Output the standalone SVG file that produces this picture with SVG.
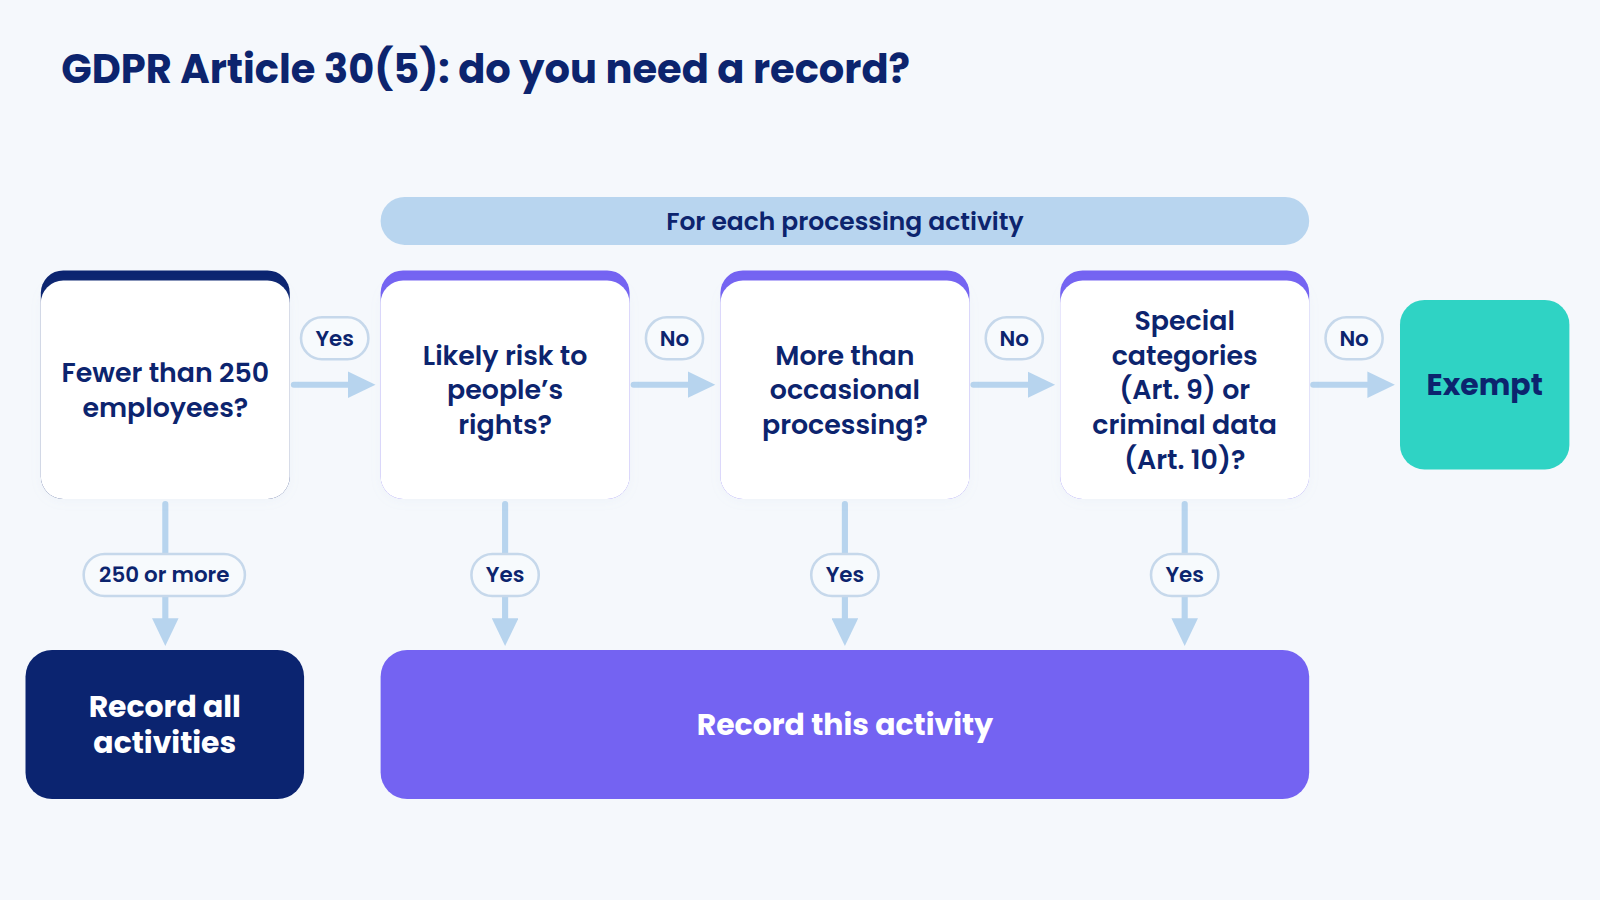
<svg xmlns="http://www.w3.org/2000/svg" width="1600" height="900" viewBox="0 0 1600 900">
<defs>
<style>
.t{font-family:Poppins,Inter,"Noto Sans",sans-serif;fill:#0c246e;text-anchor:middle;dominant-baseline:central}
.q{font-size:26.3px;font-weight:600}
.lbl{font-size:21px;font-weight:600}
.big{font-size:29.3px;font-weight:700}
.w{fill:#ffffff}
.pill{fill:#f7fafd;stroke:#c6d8eb;stroke-width:2.5}
.con{stroke:#b7d4ee;stroke-width:6;fill:none;stroke-linecap:round;marker-end:url(#ah)}
.card{fill:#ffffff}
</style>
<marker id="ah" markerUnits="userSpaceOnUse" markerWidth="28" markerHeight="26" refX="0" refY="13" orient="auto">
<path d="M0,0 L27,13 L0,26 z" fill="#b7d4ee"/>
</marker>
<filter id="sh" x="-10%" y="-10%" width="120%" height="120%">
<feDropShadow dx="0" dy="2" stdDeviation="5" flood-color="#9fb4d0" flood-opacity="0.07"/>
</filter>
</defs>
<rect width="1600" height="900" fill="#f5f8fc"/>
<g transform="scale(1.020408)">
<text id="title" x="60" y="68" class="t" style="text-anchor:start;font-size:39.2px;font-weight:700">GDPR Article 30(5): do you need a record?</text>

<g id="banner">
<rect x="373" y="193" width="910" height="47" rx="23.5" fill="#b8d5ef"/>
<text x="828" y="217" class="t" style="font-size:24.5px;font-weight:600">For each processing activity</text>
</g>

<g id="connectors">
<path class="con" d="M288,377 L341,377"/>
<path class="con" d="M621,377 L674,377"/>
<path class="con" d="M954,377 L1007,377"/>
<path class="con" d="M1287,377 L1340,377"/>
<path class="con" d="M162,494 L162,606"/>
<path class="con" d="M495,494 L495,606"/>
<path class="con" d="M828,494 L828,606"/>
<path class="con" d="M1161,494 L1161,606"/>
<g id="label-yes-1"><rect class="pill" x="295" y="311" width="66" height="41" rx="20.5"/><text class="t lbl" x="328" y="331.5">Yes</text></g>
<g id="label-no-1"><rect class="pill" x="633" y="311" width="56" height="41" rx="20.5"/><text class="t lbl" x="661" y="331.5">No</text></g>
<g id="label-no-2"><rect class="pill" x="966" y="311" width="56" height="41" rx="20.5"/><text class="t lbl" x="994" y="331.5">No</text></g>
<g id="label-no-3"><rect class="pill" x="1299" y="311" width="56" height="41" rx="20.5"/><text class="t lbl" x="1327" y="331.5">No</text></g>
<g id="label-250"><rect class="pill" x="82" y="543" width="158" height="41" rx="20.5"/><text class="t lbl" x="161" y="563.5">250 or more</text></g>
<g id="label-yes-2"><rect class="pill" x="462" y="543" width="66" height="41" rx="20.5"/><text class="t lbl" x="495" y="563.5">Yes</text></g>
<g id="label-yes-3"><rect class="pill" x="795" y="543" width="66" height="41" rx="20.5"/><text class="t lbl" x="828" y="563.5">Yes</text></g>
<g id="label-yes-4"><rect class="pill" x="1128" y="543" width="66" height="41" rx="20.5"/><text class="t lbl" x="1161" y="563.5">Yes</text></g>
</g>

<g id="q-employees">
<rect x="40" y="265" width="244" height="224" rx="22" fill="#0b2470"/>
<rect class="card" x="40" y="275" width="244" height="214" rx="22" filter="url(#sh)"/>
<text class="t q" x="162" y="365">Fewer than 250</text>
<text class="t q" x="162" y="399">employees?</text>
</g>

<g id="q-risk">
<rect x="373" y="265" width="244" height="224" rx="22" fill="#7463f2"/>
<rect class="card" x="373" y="275" width="244" height="214" rx="22" filter="url(#sh)"/>
<text class="t q" x="495" y="348">Likely risk to</text>
<text class="t q" x="495" y="382">people’s</text>
<text class="t q" x="495" y="416">rights?</text>
</g>

<g id="q-occasional">
<rect x="706" y="265" width="244" height="224" rx="22" fill="#7463f2"/>
<rect class="card" x="706" y="275" width="244" height="214" rx="22" filter="url(#sh)"/>
<text class="t q" x="828" y="348">More than</text>
<text class="t q" x="828" y="382">occasional</text>
<text class="t q" x="828" y="416">processing?</text>
</g>

<g id="q-special">
<rect x="1039" y="265" width="244" height="224" rx="22" fill="#7463f2"/>
<rect class="card" x="1039" y="275" width="244" height="214" rx="22" filter="url(#sh)"/>
<text class="t q" x="1161" y="314">Special</text>
<text class="t q" x="1161" y="348">categories</text>
<text class="t q" x="1161" y="382">(Art. 9) or</text>
<text class="t q" x="1161" y="416">criminal data</text>
<text class="t q" x="1161" y="450">(Art. 10)?</text>
</g>

<g id="exempt">
<rect x="1372" y="294" width="166" height="166" rx="24" fill="#2fd3c4"/>
<text class="t big" x="1455" y="377">Exempt</text>
</g>

<g id="record-all">
<rect x="25" y="637" width="273" height="146" rx="26" fill="#0b2470"/>
<text class="t big w" x="161.5" y="692">Record all</text>
<text class="t big w" x="161.5" y="728">activities</text>
</g>

<g id="record-this">
<rect x="373" y="637" width="910" height="146" rx="26" fill="#7463f2"/>
<text class="t big w" x="828" y="710">Record this activity</text>
</g>
</g>
</svg>
